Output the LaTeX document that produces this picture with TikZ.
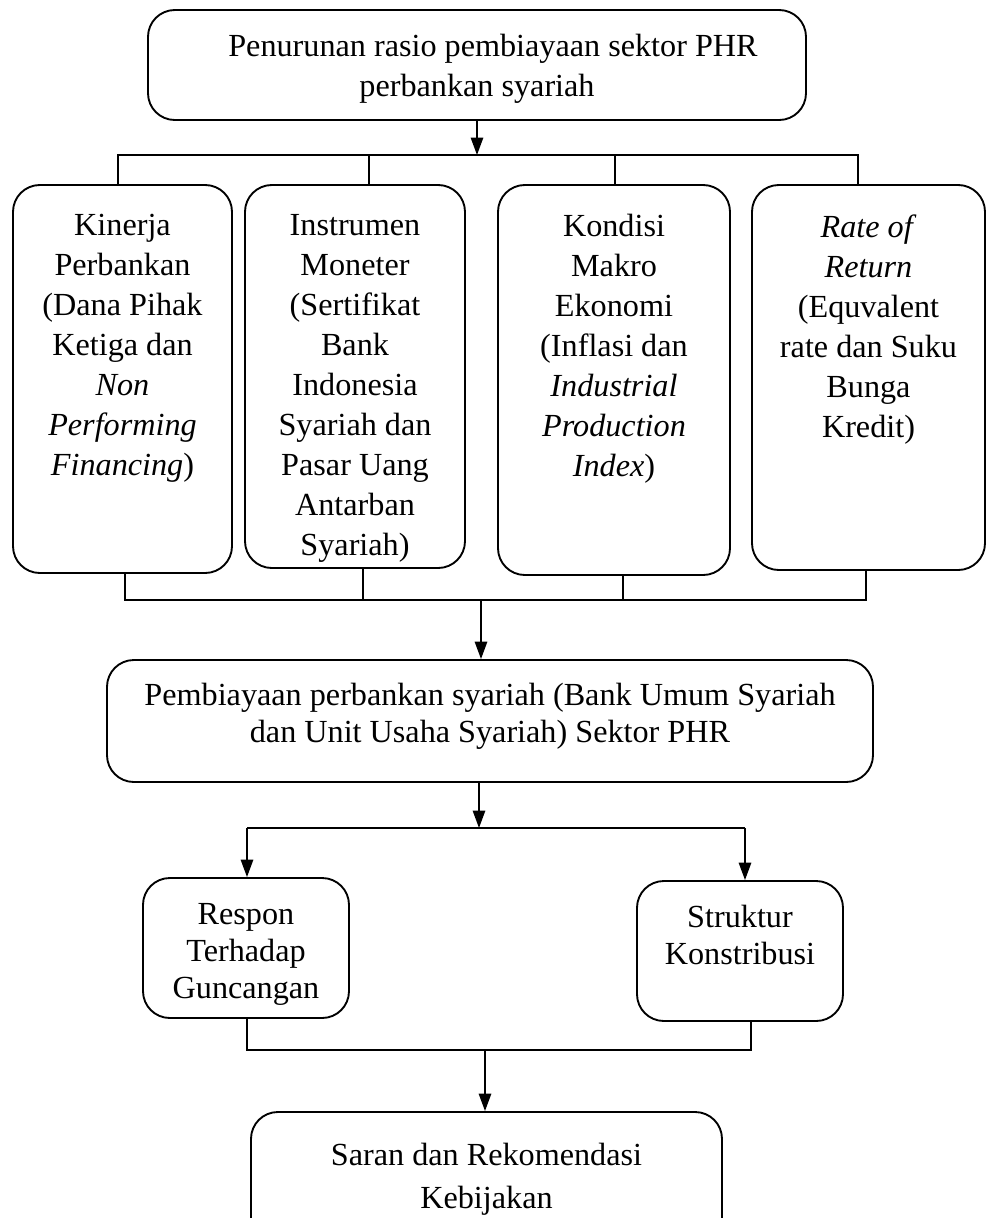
\documentclass[tikz,border=0pt]{standalone}
\usepackage{fontspec}
\setmainfont{Liberation Serif}
\usetikzlibrary{arrows.meta}
\newlength\pxu
\setlength\pxu{0.3727pt}
\tikzset{
  kotak/.style={draw, rounded corners=10pt, line width=0.7pt, inner sep=0pt},
  isi/.style={anchor=north, inner sep=0pt, align=center, font=\fontsize{12}{14.9}\selectfont},
  isirapat/.style={isi, font=\fontsize{12}{13.8}\selectfont},
  panah/.style={-{Triangle[length=6.5pt,width=4.6pt]}, line width=0.7pt},
  garis/.style={line width=0.7pt}
}
\begin{document}
\begin{tikzpicture}[x=0.3727pt, y=-0.3727pt]
  \useasboundingbox (0,0) rectangle (987,1218);
  \clip (0,0) rectangle (987,1218);

  \node[kotak, minimum width=658*\pxu, minimum height=110*\pxu] (penurunan) at (477,65) {};
  \node[isi] (penurunanTeks) at (477,34) {\hspace*{32\pxu}Penurunan rasio pembiayaan sektor PHR\\perbankan syariah};

  \node[kotak, minimum width=219*\pxu, minimum height=388*\pxu] (kinerja) at (122.5,379) {};
  \node[kotak, minimum width=220*\pxu, minimum height=383*\pxu] (instrumen) at (355,376.5) {};
  \node[kotak, minimum width=232*\pxu, minimum height=390*\pxu] (makro) at (614,380) {};
  \node[kotak, minimum width=233*\pxu, minimum height=385*\pxu] (ror) at (868.5,377.5) {};
  \node[isi] (kinerjaTeks) at (122.5,214) {Kinerja\\Perbankan\\(Dana Pihak\\Ketiga dan\\\textit{Non}\\\textit{Performing}\\\textit{Financing})};
  \node[isi] (instrumenTeks) at (355,214) {Instrumen\\Moneter\\(Sertifikat\\Bank\\Indonesia\\Syariah dan\\Pasar Uang\\Antarban\\Syariah)};
  \node[isi] (makroTeks) at (614,214) {Kondisi\\Makro\\Ekonomi\\(Inflasi dan\\\textit{Industrial}\\\textit{Production}\\\textit{Index})};
  \node[isi] (rorTeks) at (868.5,214) {\textit{Rate of}\\\textit{Return}\\(Equvalent\\rate dan Suku\\Bunga\\Kredit)};

  \node[kotak, minimum width=766*\pxu, minimum height=122*\pxu] (pembiayaan) at (490,721) {};
  \node[isirapat] (pembiayaanTeks) at (490,683) {Pembiayaan perbankan syariah (Bank Umum Syariah\\dan Unit Usaha Syariah) Sektor PHR};

  \node[kotak, minimum width=206*\pxu, minimum height=140*\pxu] (respon) at (246,948) {};
  \node[kotak, minimum width=206*\pxu, minimum height=140*\pxu] (struktur) at (740,951) {};
  \node[isirapat] (responTeks) at (246,903) {Respon\\Terhadap\\Guncangan};
  \node[isirapat] (strukturTeks) at (740,905) {Struktur\\Konstribusi};

  \node[kotak, minimum width=471*\pxu, minimum height=150*\pxu] (saran) at (486.5,1187) {};
  \node[isi, font=\fontsize{12}{15.8}\selectfont] (saranTeks) at (486.5,1143) {Saran dan Rekomendasi\\Kebijakan};

  \coordinate (ta0) at (477,155);
  \coordinate (ta1) at (118,155);
  \coordinate (ta2) at (369,155);
  \coordinate (ta3) at (615,155);
  \coordinate (ta4) at (858,155);
  \draw[panah] (penurunan.south) -- (ta0);
  \draw[garis] (ta1 |- kinerja.north) -- (ta1) -- (ta4) -- (ta4 |- ror.north);
  \draw[garis] (ta2) -- (ta2 |- instrumen.north);
  \draw[garis] (ta3) -- (ta3 |- makro.north);

  \coordinate (tb0) at (481,600);
  \coordinate (tb1) at (125,600);
  \coordinate (tb2) at (363,600);
  \coordinate (tb3) at (623,600);
  \coordinate (tb4) at (866,600);
  \draw[garis] (tb1 |- kinerja.south) -- (tb1) -- (tb4) -- (tb4 |- ror.south);
  \draw[garis] (tb2 |- instrumen.south) -- (tb2);
  \draw[garis] (tb3 |- makro.south) -- (tb3);
  \draw[panah] (tb0) -- (tb0 |- pembiayaan.north);

  \coordinate (tc0) at (479,828);
  \coordinate (tc1) at (247,828);
  \coordinate (tc2) at (745,828);
  \draw[panah] (tc0 |- pembiayaan.south) -- (tc0);
  \draw[garis] (tc1) -- (tc2);
  \draw[panah] (tc1) -- (tc1 |- respon.north);
  \draw[panah] (tc2) -- (tc2 |- struktur.north);

  \coordinate (td0) at (485,1050);
  \coordinate (td1) at (247,1050);
  \coordinate (td2) at (751,1050);
  \draw[garis] (td1 |- respon.south) -- (td1) -- (td2) -- (td2 |- struktur.south);
  \draw[panah] (td0) -- (td0 |- saran.north);
\end{tikzpicture}
\end{document}
